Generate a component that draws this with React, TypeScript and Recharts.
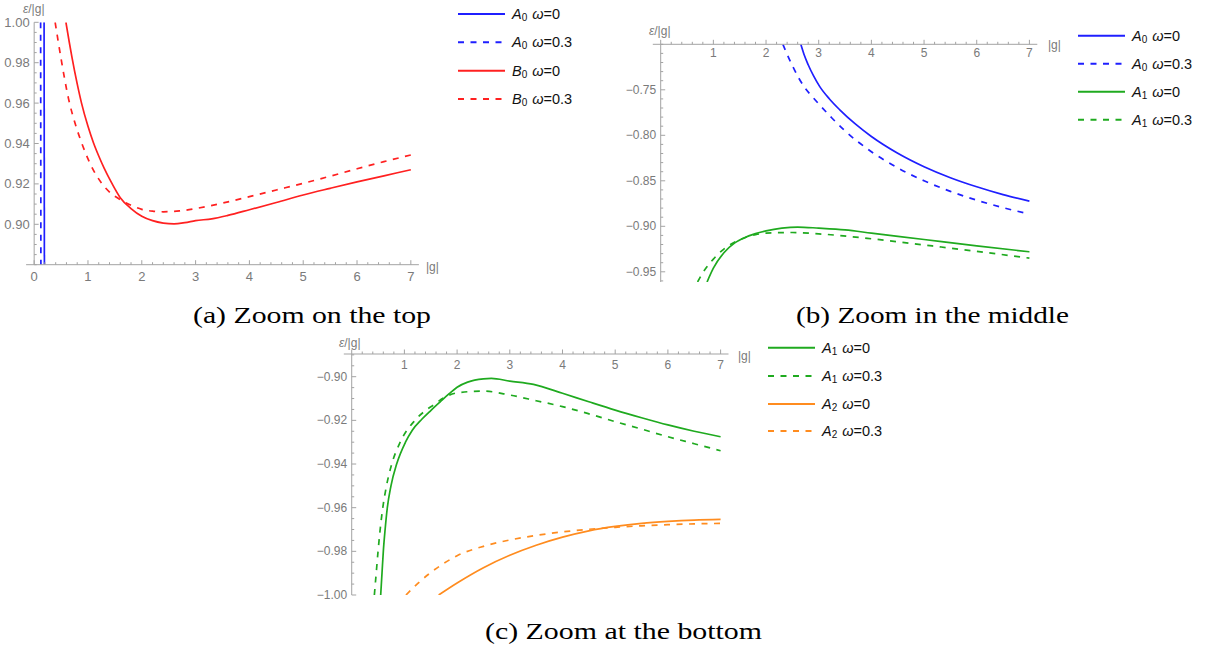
import React from 'react';
import { LineChart, Line, XAxis, YAxis, ReferenceLine } from 'recharts';

type P = [number, number];

// ---------- Panel (a): Zoom on the top ----------
const aA0w0: P[] = [[0.184, 1.0], [0.19, 0.88]];
const aA0w03: P[] = [[0.12, 1.0], [0.125, 0.88]];
const aB0w0: P[] = [[0.59, 1.0], [0.65, 0.9905], [0.7, 0.983], [0.8, 0.9695], [0.88, 0.96], [1.0, 0.9485], [1.1, 0.9405], [1.2, 0.9338], [1.3, 0.9278], [1.44, 0.9205], [1.6, 0.9132], [1.8, 0.9078], [2.0, 0.904], [2.2, 0.9018], [2.4, 0.9006], [2.6, 0.9002], [2.8, 0.9008], [3.0, 0.9018], [3.3, 0.9027], [3.6, 0.9044], [4.0, 0.9072], [4.5, 0.9108], [5.0, 0.9145], [5.5, 0.9178], [6.0, 0.921], [6.5, 0.924], [7.0, 0.927]];
const aB0w03: P[] = [[0.39, 1.0], [0.5, 0.982], [0.64, 0.962], [0.76, 0.95], [0.88, 0.9405], [1.05, 0.9295], [1.25, 0.9205], [1.42, 0.9155], [1.6, 0.9122], [1.8, 0.9094], [2.0, 0.9074], [2.2, 0.9065], [2.4, 0.9062], [2.7, 0.9066], [3.0, 0.9078], [3.5, 0.9105], [4.0, 0.9137], [4.5, 0.917], [5.0, 0.9203], [5.5, 0.9238], [6.0, 0.9275], [6.5, 0.931], [7.0, 0.9343]];
const aYMajor = [0.9, 0.92, 0.94, 0.96, 0.98, 1.0];

// ---------- Panel (b): Zoom in the middle ----------
const bA0w0: P[] = [[2.66, -0.7], [2.72, -0.711], [2.8, -0.7225], [2.9, -0.7345], [3.02, -0.7465], [3.2, -0.7598], [3.4, -0.772], [3.7, -0.7878], [4.0, -0.8013], [4.5, -0.8197], [5.0, -0.8345], [5.5, -0.8466], [6.0, -0.8566], [6.5, -0.8652], [7.0, -0.8724]];
const bA0w03: P[] = [[2.32, -0.7], [2.4, -0.711], [2.5, -0.7235], [2.62, -0.737], [2.74, -0.748], [2.9, -0.759], [3.0, -0.7655], [3.25, -0.781], [3.5, -0.7952], [4.0, -0.818], [4.5, -0.8358], [5.0, -0.85], [5.5, -0.8616], [6.0, -0.8713], [6.5, -0.8795], [7.0, -0.8866]];
const bA1w0: P[] = [[0.88, -0.9612], [1.0, -0.946], [1.2, -0.929], [1.4, -0.9185], [1.6, -0.9122], [1.8, -0.908], [2.0, -0.905], [2.3, -0.902], [2.6, -0.9008], [3.0, -0.902], [3.5, -0.904], [4.0, -0.9075], [5.0, -0.9145], [6.0, -0.9215], [7.0, -0.928]];
const bA1w03: P[] = [[0.7, -0.9612], [0.8, -0.951], [1.0, -0.936], [1.2, -0.925], [1.4, -0.9175], [1.6, -0.9125], [1.8, -0.9092], [2.0, -0.9075], [2.5, -0.9068], [3.0, -0.9083], [4.0, -0.9137], [5.0, -0.9205], [6.0, -0.9275], [7.0, -0.935]];
const bYMajor = [-0.75, -0.8, -0.85, -0.9, -0.95];

// ---------- Panel (c): Zoom at the bottom ----------
const cA1w0: P[] = [[0.55, -1.0], [0.575, -0.99], [0.6, -0.98], [0.634, -0.97], [0.676, -0.96], [0.745, -0.95], [0.853, -0.94], [1.02, -0.93], [1.15, -0.9245], [1.33, -0.9195], [1.5, -0.9155], [1.68, -0.9115], [1.85, -0.9078], [2.0, -0.9048], [2.2, -0.9025], [2.5, -0.901], [2.65, -0.9008], [3.0, -0.902], [3.45, -0.9035], [4.0, -0.9076], [4.5, -0.9115], [5.0, -0.9153], [5.5, -0.9188], [6.0, -0.9221], [6.5, -0.925], [7.0, -0.9275]];
const cA1w03: P[] = [[0.43, -1.0], [0.465, -0.99], [0.5, -0.98], [0.54, -0.97], [0.59, -0.96], [0.66, -0.95], [0.76, -0.94], [0.92, -0.93], [1.2, -0.92], [1.4, -0.9155], [1.58, -0.9125], [1.74, -0.9098], [2.0, -0.9074], [2.5, -0.9066], [3.0, -0.9084], [3.5, -0.911], [4.0, -0.9137], [4.5, -0.917], [5.0, -0.9206], [5.5, -0.924], [6.0, -0.9275], [6.5, -0.9307], [7.0, -0.9339]];
const cA2w0: P[] = [[1.65, -1.0], [2.0, -0.9945], [2.5, -0.9875], [3.0, -0.9818], [3.5, -0.9772], [4.0, -0.9735], [4.5, -0.9706], [5.0, -0.9686], [5.5, -0.9672], [6.0, -0.9663], [6.5, -0.9657], [7.0, -0.9654]];
const cA2w03: P[] = [[1.03, -1.0], [1.25, -0.9948], [1.5, -0.9897], [1.75, -0.9855], [2.0, -0.982], [2.5, -0.9777], [3.0, -0.9748], [3.5, -0.9727], [4.0, -0.9711], [4.5, -0.9699], [5.0, -0.969], [5.5, -0.9683], [6.0, -0.9678], [6.5, -0.9674], [7.0, -0.9672]];
const cYMajor = [-0.9, -0.92, -0.94, -0.96, -0.98, -1.0];

const xMajor = [0, 1, 2, 3, 4, 5, 6, 7];
const xMinorPerUnit = 5;
const xDomain: [number, number] = [-0.15, 7.15];
const omegaValues = ['0', '0.3'];
const captions = ['(a) Zoom on the top', '(b) Zoom in the middle', '(c) Zoom at the bottom'];

const BLUE = '#1f1fff';
const RED = '#ff2020';
const GREEN = '#1faa1f';
const ORANGE = '#ff8c1f';
const AXIS = '#a3a3a3';
const LABEL = '#7a7a7a';
const SANS = '"Liberation Sans", Arial, sans-serif';
const DASH = '6 6.5';

type Series = { data: P[]; color: string; dashed: boolean; letter: string; sub: string; omega: string };

type Panel = {
  rect: { left: number; top: number; right: number; bottom: number };
  xAt: 'bottom' | 'top';
  yDomain: [number, number];
  yMajor: number[];
  yStep: number;
  fs: number;
  xLabelDy: number;
  showZero: boolean;
  series: Series[];
  legend: { x1: number; x2: number; tx: number; rows: number[] };
  yTitle: { x: number; y: number };
  xTitle: { x: number; y: number };
  caption: { x1: number; x2: number; y: number };
};

const panels: Panel[] = [
  {
    rect: { left: 26.1, top: 22.3, right: 418.9, bottom: 264.7 },
    xAt: 'bottom',
    yDomain: [0.88, 1.0],
    yMajor: aYMajor,
    yStep: 0.005,
    fs: 13,
    xLabelDy: 12,
    showZero: true,
    series: [
      { data: aA0w0, color: BLUE, dashed: false, letter: 'A', sub: '0', omega: omegaValues[0] },
      { data: aA0w03, color: BLUE, dashed: true, letter: 'A', sub: '0', omega: omegaValues[1] },
      { data: aB0w0, color: RED, dashed: false, letter: 'B', sub: '0', omega: omegaValues[0] },
      { data: aB0w03, color: RED, dashed: true, letter: 'B', sub: '0', omega: omegaValues[1] },
    ],
    legend: { x1: 458, x2: 505, tx: 512, rows: [14, 42.3, 70.7, 99] },
    yTitle: { x: 23, y: 9 },
    xTitle: { x: 426, y: 267 },
    caption: { x1: 193, x2: 431, y: 323 },
  },
  {
    rect: { left: 652.8, top: 44.3, right: 1037.3, bottom: 282 },
    xAt: 'top',
    yDomain: [-0.9612, -0.7],
    yMajor: bYMajor,
    yStep: 0.01,
    fs: 12,
    xLabelDy: 9,
    showZero: false,
    series: [
      { data: bA0w0, color: BLUE, dashed: false, letter: 'A', sub: '0', omega: omegaValues[0] },
      { data: bA0w03, color: BLUE, dashed: true, letter: 'A', sub: '0', omega: omegaValues[1] },
      { data: bA1w0, color: GREEN, dashed: false, letter: 'A', sub: '1', omega: omegaValues[0] },
      { data: bA1w03, color: GREEN, dashed: true, letter: 'A', sub: '1', omega: omegaValues[1] },
    ],
    legend: { x1: 1078, x2: 1125, tx: 1132, rows: [35.7, 63.7, 91.7, 119.7] },
    yTitle: { x: 649, y: 31 },
    xTitle: { x: 1048, y: 45 },
    caption: { x1: 796, x2: 1069, y: 323 },
  },
  {
    rect: { left: 343.8, top: 354, right: 728.5, bottom: 595 },
    xAt: 'top',
    yDomain: [-1.0, -0.8896],
    yMajor: cYMajor,
    yStep: 0.005,
    fs: 12,
    xLabelDy: 11,
    showZero: false,
    series: [
      { data: cA1w0, color: GREEN, dashed: false, letter: 'A', sub: '1', omega: omegaValues[0] },
      { data: cA1w03, color: GREEN, dashed: true, letter: 'A', sub: '1', omega: omegaValues[1] },
      { data: cA2w0, color: ORANGE, dashed: false, letter: 'A', sub: '2', omega: omegaValues[0] },
      { data: cA2w03, color: ORANGE, dashed: true, letter: 'A', sub: '2', omega: omegaValues[1] },
    ],
    legend: { x1: 768, x2: 815, tx: 822, rows: [347.7, 376, 404, 431] },
    yTitle: { x: 339, y: 343 },
    xTitle: { x: 738, y: 356 },
    caption: { x1: 485, x2: 762, y: 639 },
  },
];

const W = 1211;
const H = 648;

const xTicks: number[] = [];
for (let k = 0; k <= xMajor[xMajor.length - 1] * xMinorPerUnit; k++) xTicks.push(Math.round((k / xMinorPerUnit) * 1000) / 1000);

function yTicksFor(p: Panel): number[] {
  const [lo, hi] = p.yDomain;
  const out: number[] = [];
  let k = Math.ceil(lo / p.yStep - 1e-9);
  while (k * p.yStep <= hi + 1e-9) {
    out.push(Math.round(k * p.yStep * 1000) / 1000);
    k++;
  }
  return out;
}

function fmtY(v: number): string {
  const s = Math.abs(v).toFixed(2);
  return v < 0 ? '\u2212' + s : s;
}

function PanelChart({ p }: { p: Panel }) {
  const { left, top, right, bottom } = p.rect;
  const axisX = left + ((0 - xDomain[0]) / (xDomain[1] - xDomain[0])) * (right - left);
  const axisY = p.xAt === 'bottom' ? bottom : top;
  const margin = p.xAt === 'bottom'
    ? { top, left: left - 1, right: W - right, bottom: H - bottom - 1 }
    : { top: top - 1, left: left - 1, right: W - right, bottom: H - bottom };
  const yTicks = yTicksFor(p);

  const xTick = (props: any) => {
    const x = props.x;
    const v = props.payload.value;
    const major = xMajor.some((m) => Math.abs(m - v) < 1e-6);
    const len = major ? 4.5 : 2.5;
    return (
      <g>
        <line x1={x} x2={x} y1={axisY} y2={axisY - len} stroke={AXIS} strokeWidth={1} />
        {major && (p.showZero || v !== 0) ? (
          <text x={x} y={axisY + p.xLabelDy} textAnchor="middle" dominantBaseline="central" fontSize={p.fs} fill={LABEL} fontFamily={SANS}>
            {String(v)}
          </text>
        ) : null}
      </g>
    );
  };

  const yTick = (props: any) => {
    const y = props.y;
    const v = props.payload.value;
    const major = p.yMajor.some((m) => Math.abs(m - v) < 1e-6);
    const len = major ? 4.5 : 2.5;
    return (
      <g>
        <line x1={axisX} x2={axisX + len} y1={y} y2={y} stroke={AXIS} strokeWidth={1} />
        {major ? (
          <text x={axisX - 4.5} y={y} textAnchor="end" dominantBaseline="central" fontSize={p.fs} fill={LABEL} fontFamily={SANS}>
            {fmtY(v)}
          </text>
        ) : null}
      </g>
    );
  };

  return (
    <div style={{ position: 'absolute', left: 0, top: 0, width: W, height: H }}>
      <LineChart width={W} height={H} margin={margin}>
        <XAxis
          dataKey="x"
          type="number"
          domain={xDomain}
          allowDataOverflow
          orientation={p.xAt}
          height={1}
          ticks={xTicks}
          interval={0}
          tick={xTick}
          tickLine={false}
          axisLine={{ stroke: AXIS, strokeWidth: 1 }}
        />
        <YAxis
          dataKey="y"
          type="number"
          domain={p.yDomain}
          allowDataOverflow
          width={1}
          ticks={yTicks}
          interval={0}
          tick={yTick}
          tickLine={false}
          axisLine={false}
        />
        <ReferenceLine x={0} stroke={AXIS} strokeWidth={1} />
        {p.series.map((s, i) => (
          <Line
            key={i}
            data={s.data.map(([x, y]) => ({ x, y }))}
            dataKey="y"
            type={s.data.length > 2 ? 'monotone' : 'linear'}
            stroke={s.color}
            strokeWidth={1.7}
            strokeDasharray={s.dashed ? DASH : undefined}
            dot={false}
            activeDot={false}
            isAnimationActive={false}
          />
        ))}
      </LineChart>
    </div>
  );
}

function Overlay() {
  return (
    <svg width={W} height={H} style={{ position: 'absolute', left: 0, top: 0 }}>
      {panels.map((p, pi) => (
        <g key={pi}>
          <text x={p.yTitle.x} y={p.yTitle.y} dominantBaseline="central" fontSize={12} fill={LABEL} fontFamily={SANS}>
            <tspan fontStyle="italic">ε</tspan>/|g|
          </text>
          <text x={p.xTitle.x} y={p.xTitle.y} dominantBaseline="central" fontSize={12} fill={LABEL} fontFamily={SANS}>
            |g|
          </text>
          {p.series.map((s, i) => (
            <g key={i}>
              <line x1={p.legend.x1} x2={p.legend.x2} y1={p.legend.rows[i]} y2={p.legend.rows[i]} stroke={s.color} strokeWidth={2} strokeDasharray={s.dashed ? DASH : undefined} />
              <text x={p.legend.tx} y={p.legend.rows[i]} dominantBaseline="central" fontSize={14.5} fill="#111" fontFamily={SANS}>
                <tspan fontStyle="italic">{s.letter}</tspan>
                <tspan fontSize={10} dy={3}>{s.sub}</tspan>
                <tspan dy={-3} dx={5} fontStyle="italic">ω</tspan>
                <tspan>={s.omega}</tspan>
              </text>
            </g>
          ))}
          <text
            x={p.caption.x1}
            y={p.caption.y}
            fontSize={24}
            fill="#000"
            fontFamily='"Liberation Serif", "DejaVu Serif", serif'
            textLength={p.caption.x2 - p.caption.x1}
            lengthAdjust="spacingAndGlyphs"
          >
            {captions[pi]}
          </text>
        </g>
      ))}
    </svg>
  );
}

export default function App() {
  return (
    <div style={{ position: 'absolute', left: 0, top: 0, width: W, height: H, background: '#fff', overflow: 'hidden' }}>
      {panels.map((p, i) => (
        <PanelChart key={i} p={p} />
      ))}
      <Overlay />
    </div>
  );
}
